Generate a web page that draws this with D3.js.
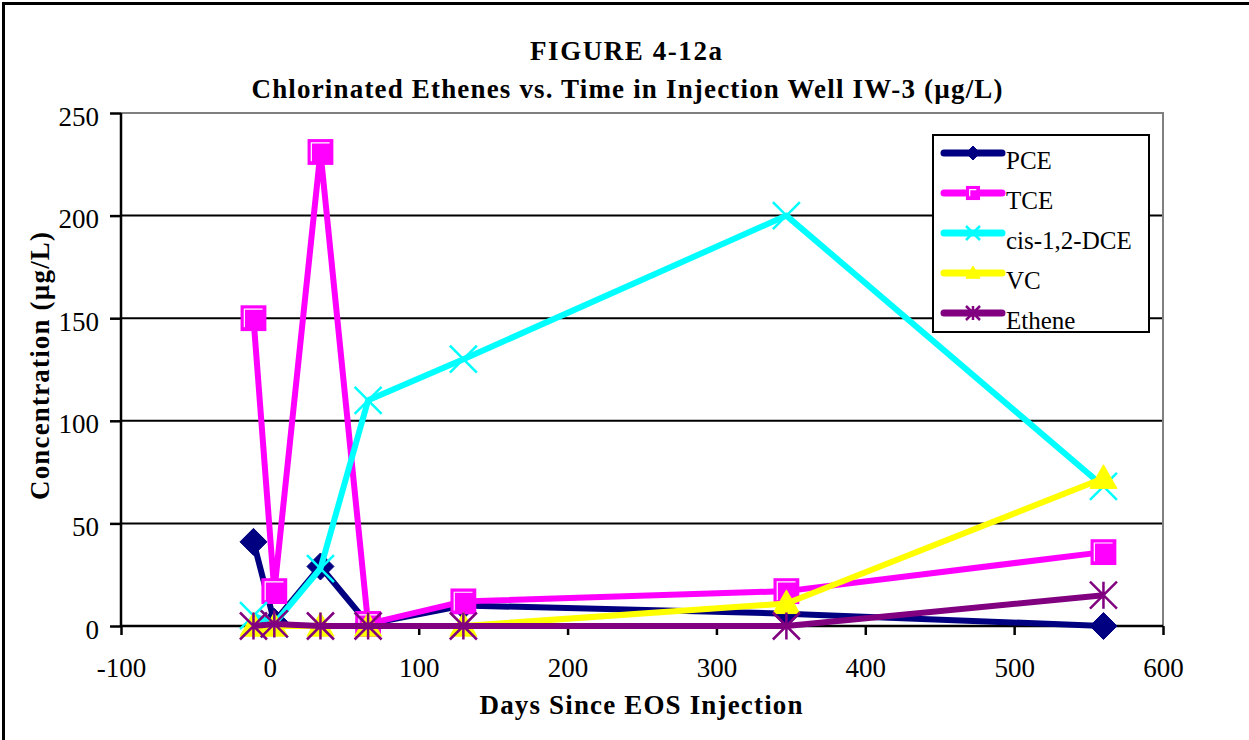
<!DOCTYPE html>
<html><head><meta charset="utf-8">
<script src="https://cdn.jsdelivr.net/npm/d3@7"></script>
<style>body{margin:0;background:#fff}svg{display:block}text{font-family:"Liberation Serif","Times New Roman",serif}</style>
</head><body>
<svg id="c" width="1249" height="740"></svg>
<script>
const days   = [-11, 3, 34, 66, 130, 347, 560];
const pce    = [41, 2, 29, 1, 10, 6, 0];
const tce    = [150, 17, 231, 1, 12, 17, 36];
const cisDCE = [5, 1, 28, 110, 130, 200, 68];
const vc     = [0, 0, 0, 0, 0, 11, 72];
const ethene = [0, 1, 0, 0, 0, 0, 15];
const seriesNames = ["PCE", "TCE", "cis-1,2-DCE", "VC", "Ethene"];
const xTicks = [-100, 0, 100, 200, 300, 400, 500, 600];
const yTicks = [0, 50, 100, 150, 200, 250];

const colors = ["#000080", "#FF00FF", "#00FFFF", "#FFFF00", "#800080"];
const shapes = ["diamond", "square", "x", "triangle", "star"];
const values = [pce, tce, cisDCE, vc, ethene];

const svg = d3.select("#c");
const L = 121, R = 1163, T = 113, B = 626;
const x = d3.scaleLinear().domain([-100, 600]).range([L, R]);
const y = d3.scaleLinear().domain([0, 250]).range([B, T]);

// outer frame
svg.append("path").attr("d", `M3.5,745 V3.5 H1255`).attr("fill", "none").attr("stroke", "#000").attr("stroke-width", 3);

// title
svg.append("text").attr("x", 626).attr("y", 60).attr("text-anchor", "middle")
  .attr("font-weight", "bold").attr("font-size", 27)
  .attr("textLength", 192).attr("lengthAdjust", "spacing").text("FIGURE 4-12a");
svg.append("text").attr("x", 627).attr("y", 98).attr("text-anchor", "middle")
  .attr("font-weight", "bold").attr("font-size", 27)
  .attr("textLength", 751).attr("lengthAdjust", "spacing")
  .text("Chlorinated Ethenes vs. Time in Injection Well IW-3 (µg/L)");

// gridlines
svg.append("g").selectAll("line").data(yTicks.filter(v => v > 0 && v < 250)).join("line")
  .attr("x1", L).attr("x2", R).attr("y1", d => y(d)).attr("y2", d => y(d))
  .attr("stroke", "#000").attr("stroke-width", 2);
// plot border top & right (gray)
svg.append("path").attr("d", `M${L},${y(250)} H${R} V${B}`).attr("fill", "none").attr("stroke", "#808080").attr("stroke-width", 2);

// axes
const fmt = d => String(d).replace("\u2212", "-");
const yAxis = d3.axisLeft(y).tickValues(yTicks).tickSize(11).tickPadding(11).tickFormat(fmt);
const gy = svg.append("g").attr("transform", `translate(${L},0)`).call(yAxis);
const xAxis = d3.axisBottom(x).tickValues(xTicks).tickSize(9).tickPadding(14).tickFormat(fmt);
const gx = svg.append("g").attr("transform", `translate(0,${B})`).call(xAxis);
[gx, gy].forEach(g => {
  g.select(".domain").attr("stroke", "#000").attr("stroke-width", 2.5);
  g.selectAll(".tick line").attr("stroke", "#000").attr("stroke-width", 2.5);
  g.selectAll(".tick text").attr("fill", "#000").attr("font-size", 27).attr("font-family", "Liberation Serif, serif");
});
gx.select(".domain").attr("d", `M${L},0H${R}`);
gy.select(".domain").attr("d", `M0,${B}V${y(250)}`);
gx.selectAll(".tick text").attr("y", 51).attr("dy", 0);
gy.selectAll(".tick text").attr("dy", 12);

// axis titles
svg.append("text").attr("x", 641).attr("y", 714).attr("text-anchor", "middle")
  .attr("font-weight", "bold").attr("font-size", 27)
  .attr("textLength", 323).attr("lengthAdjust", "spacing").text("Days Since EOS Injection");
svg.append("text").attr("transform", "translate(49,366) rotate(-90)").attr("text-anchor", "middle")
  .attr("font-weight", "bold").attr("font-size", 27)
  .attr("textLength", 268).attr("lengthAdjust", "spacing").text("Concentration (µg/L)");

function drawMarker(g, shape, color, cx, cy, s) {
  const h = s / 2;
  if (shape === "diamond") {
    g.append("path").attr("d", `M${cx},${cy - h}L${cx + h},${cy}L${cx},${cy + h}L${cx - h},${cy}Z`).attr("fill", color).attr("stroke", color).attr("stroke-width", 1);
  } else if (shape === "square") {
    const w = s * 0.9;
    g.append("rect").attr("x", cx - w / 2).attr("y", cy - w / 2).attr("width", w).attr("height", w)
      .attr("fill", color).attr("stroke", color).attr("stroke-width", 1.5);
    g.append("path").attr("d", `M${cx - w / 2 + 3},${cy + w / 2 - 3}V${cy - w / 2 + 3}H${cx + w / 2 - 3}`)
      .attr("fill", "none").attr("stroke", "#fff").attr("stroke-width", 1.2);
  } else if (shape === "x") {
    g.append("path").attr("d", `M${cx - h},${cy - h}L${cx + h},${cy + h}M${cx - h},${cy + h}L${cx + h},${cy - h}`)
      .attr("stroke", color).attr("stroke-width", 2.5).attr("fill", "none");
  } else if (shape === "triangle") {
    g.append("path").attr("d", `M${cx},${cy - h}L${cx + h},${cy + h * 0.75}L${cx - h},${cy + h * 0.75}Z`).attr("fill", color).attr("stroke", color);
  } else if (shape === "star") {
    g.append("path").attr("d", `M${cx - h},${cy - h}L${cx + h},${cy + h}M${cx - h},${cy + h}L${cx + h},${cy - h}M${cx},${cy - h}V${cy + h}`)
      .attr("stroke", color).attr("stroke-width", 2.5).attr("fill", "none");
  }
}

// series
const line = d3.line().x(d => x(d[0])).y(d => y(d[1]));
values.forEach((vals, i) => {
  const g = svg.append("g");
  const pts = days.map((d, j) => [d, vals[j]]);
  g.append("path").attr("d", line(pts)).attr("fill", "none").attr("stroke", colors[i])
    .attr("stroke-width", 6).attr("stroke-linejoin", "round");
  pts.forEach(p => drawMarker(g, shapes[i], colors[i], x(p[0]), y(p[1]), 27));
});

// legend
const lg = svg.append("g");
lg.append("rect").attr("x", 933).attr("y", 135).attr("width", 216).attr("height", 197)
  .attr("fill", "#fff").attr("stroke", "#000").attr("stroke-width", 2);
seriesNames.forEach((n, i) => {
  const ly = 153 + i * 40;
  lg.append("line").attr("x1", 944).attr("x2", 1002).attr("y1", ly).attr("y2", ly)
    .attr("stroke", colors[i]).attr("stroke-width", 7).attr("stroke-linecap", "round");
  drawMarker(lg, shapes[i], colors[i], 973, ly, 14);
  lg.append("text").attr("x", 1006).attr("y", ly + 16).attr("font-size", 25).text(n);
});
</script>
</body></html>
